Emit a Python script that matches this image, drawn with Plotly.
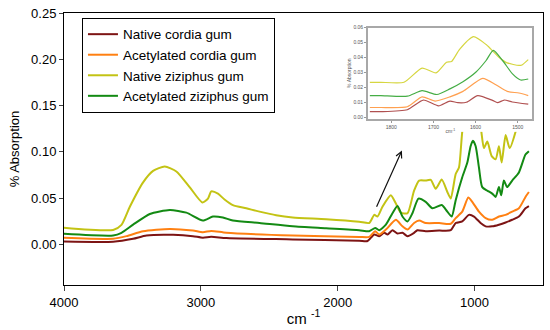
import plotly.graph_objects as go

# ---------------- main spectrum data (wavenumber cm-1, absorption) ----------------
wn_native_cordia = [4000, 3641, 3495, 3397, 3203, 3058, 2985, 2924, 2814, 2329, 1843, 1782, 1733, 1697,
                    1660, 1636, 1600, 1563, 1527, 1490, 1442, 1418, 1357, 1259, 1174, 1138, 1090, 1041,
                    1004, 956, 919, 871, 822, 773, 725, 676, 628, 603]
abs_native_cordia = [0.0030, 0.0028, 0.0060, 0.0095, 0.0102, 0.0088, 0.0071, 0.0081, 0.0067, 0.0053, 0.0039,
                     0.0035, 0.0106, 0.0088, 0.0124, 0.0106, 0.0152, 0.0117, 0.0124, 0.0088, 0.0124, 0.0152,
                     0.0141, 0.0148, 0.0152, 0.0230, 0.0247, 0.0318, 0.0300, 0.0230, 0.0194, 0.0194, 0.0212,
                     0.0236, 0.0265, 0.0300, 0.0389, 0.0413]

wn_acet_cordia = [4000, 3641, 3543, 3422, 3227, 3058, 2985, 2924, 2814, 2329, 1843, 1770, 1726, 1697, 1648,
                  1575, 1527, 1490, 1442, 1405, 1357, 1259, 1174, 1138, 1090, 1046, 1017, 968, 919, 871, 822,
                  773, 725, 676, 628, 603]
abs_acet_cordia = [0.0071, 0.0060, 0.0088, 0.0141, 0.0166, 0.0148, 0.0130, 0.0145, 0.0124, 0.0095, 0.0080,
                   0.0080, 0.0141, 0.0106, 0.0159, 0.0265, 0.0194, 0.0159, 0.0230, 0.0257, 0.0230, 0.0230,
                   0.0222, 0.0283, 0.0353, 0.0505, 0.0459, 0.0353, 0.0283, 0.0265, 0.0300, 0.0318, 0.0353,
                   0.0389, 0.0512, 0.0565]

wn_native_ziziphus = [4000, 3641, 3580, 3519, 3422, 3349, 3264, 3179, 3082, 2989, 2948, 2924, 2875, 2827,
                      2766, 2668, 2571, 2450, 2329, 2085, 1843, 1770, 1733, 1709, 1673, 1612, 1575, 1539,
                      1490, 1442, 1405, 1357, 1320, 1284, 1240, 1199, 1174, 1138, 1114, 1090, 1060, 1030,
                      990, 955, 949, 932, 907, 875, 846, 822, 802, 773, 744, 700, 660, 603]
abs_native_ziziphus = [0.0180, 0.0155, 0.0210, 0.0406, 0.0670, 0.0794, 0.0840, 0.0787, 0.0618, 0.0452,
                       0.0494, 0.0572, 0.0547, 0.0484, 0.0424, 0.0389, 0.0353, 0.0314, 0.0290, 0.0272,
                       0.0244, 0.0230, 0.0318, 0.0300, 0.0406, 0.0530, 0.0440, 0.0342, 0.0336, 0.0580,
                       0.0689, 0.0689, 0.0696, 0.0600, 0.0699, 0.0565, 0.0494, 0.0760, 0.0830, 0.1218,
                       0.1500, 0.1700, 0.1600, 0.1280, 0.1200, 0.1040, 0.1110, 0.0953, 0.0918, 0.1060,
                       0.0883, 0.1180, 0.1040, 0.1220, 0.1500, 0.1700]

wn_acet_ziziphus = [4000, 3641, 3580, 3495, 3373, 3227, 3106, 2985, 2912, 2839, 2766, 2571, 2329, 2085,
                    1843, 1770, 1726, 1697, 1648, 1600, 1563, 1527, 1490, 1454, 1410, 1357, 1308, 1240,
                    1199, 1167, 1138, 1090, 1053, 1029, 1012, 992, 968, 944, 907, 871, 846, 822, 805, 786,
                    762, 725, 676, 628, 603]
abs_acet_ziziphus = [0.0113, 0.0095, 0.0124, 0.0212, 0.0328, 0.0371, 0.0342, 0.0257, 0.0300, 0.0290,
                     0.0257, 0.0230, 0.0194, 0.0173, 0.0152, 0.0141, 0.0177, 0.0152, 0.0212, 0.0336,
                     0.0413, 0.0300, 0.0247, 0.0336, 0.0494, 0.0459, 0.0389, 0.0424, 0.0353, 0.0300,
                     0.0477, 0.0724, 0.0883, 0.1060, 0.1120, 0.1060, 0.0830, 0.0618, 0.0580, 0.0548,
                     0.0512, 0.0618, 0.0530, 0.0689, 0.0618, 0.0689, 0.0777, 0.0970, 0.1006]

# ---------------- inset (zoom 1850-1470 cm-1) ----------------
in_wn_native_cordia = [1851, 1825, 1762, 1724, 1688, 1661, 1642, 1622, 1595, 1560, 1548, 1532, 1513, 1475]
in_abs_native_cordia = [0.0037, 0.0037, 0.0050, 0.0115, 0.0076, 0.0108, 0.0097, 0.0100, 0.0145, 0.0113,
                        0.0097, 0.0115, 0.0102, 0.0087]
in_wn_acet_cordia = [1851, 1825, 1762, 1727, 1696, 1661, 1630, 1583, 1552, 1525, 1497, 1475]
in_abs_acet_cordia = [0.0065, 0.0065, 0.0070, 0.0136, 0.0108, 0.0136, 0.0173, 0.0260, 0.0217, 0.0173,
                      0.0162, 0.0145]
in_wn_native_ziziphus = [1851, 1825, 1770, 1727, 1694, 1669, 1657, 1638, 1605, 1575, 1544, 1525, 1497,
                         1490, 1475]
in_abs_native_ziziphus = [0.0234, 0.0234, 0.0234, 0.0329, 0.0297, 0.0368, 0.0373, 0.0455, 0.0540, 0.0487,
                          0.0400, 0.0364, 0.0347, 0.0350, 0.0386]
in_wn_acet_ziziphus = [1851, 1825, 1762, 1727, 1692, 1661, 1630, 1599, 1575, 1558, 1536, 1513, 1493, 1475]
in_abs_acet_ziziphus = [0.0145, 0.0145, 0.0141, 0.0178, 0.0152, 0.0190, 0.0238, 0.0303, 0.0380, 0.0448,
                        0.0380, 0.0292, 0.0249, 0.0256]

names = ["Native cordia gum", "Acetylated cordia gum", "Native ziziphus gum", "Acetylated ziziphus gum"]
main_colors = ["#7d1414", "#ff8012", "#c3c314", "#138a13"]
inset_colors = ["#b05050", "#ffa050", "#d6d640", "#45ad45"]

y_ticks = [0.0, 0.05, 0.10, 0.15, 0.20, 0.25]
x_ticks = [4000, 3000, 2000, 1000]
in_y_ticks = [0.0, 0.01, 0.02, 0.03, 0.04, 0.05, 0.06]
in_x_ticks = [1800, 1700, 1600, 1500]

FONT = "Liberation Sans, Arial, sans-serif"

fig = go.Figure()

main_sets = [(wn_native_cordia, abs_native_cordia), (wn_acet_cordia, abs_acet_cordia),
             (wn_native_ziziphus, abs_native_ziziphus), (wn_acet_ziziphus, abs_acet_ziziphus)]
for (xs, ys), nm, col in zip(main_sets, names, main_colors):
    fig.add_trace(go.Scatter(x=xs, y=ys, mode="lines", name=nm,
                             line=dict(color=col, width=2, shape="spline", smoothing=0.6),
                             xaxis="x", yaxis="y"))

# white cover behind the inset (empty subplot whose background hides the main curves)
fig.add_trace(go.Scatter(x=[None], y=[None], mode="lines", showlegend=False, xaxis="x2", yaxis="y2"))

inset_sets = [(in_wn_native_cordia, in_abs_native_cordia), (in_wn_acet_cordia, in_abs_acet_cordia),
              (in_wn_native_ziziphus, in_abs_native_ziziphus), (in_wn_acet_ziziphus, in_abs_acet_ziziphus)]
for (xs, ys), nm, col in zip(inset_sets, names, inset_colors):
    fig.add_trace(go.Scatter(x=xs, y=ys, mode="lines", name=nm, showlegend=False,
                             line=dict(color=col, width=1.2, shape="spline", smoothing=0.6),
                             xaxis="x3", yaxis="y3"))

fig.add_annotation(x=1531, y=0.1014, ax=1721, ay=0.0389, xref="x", yref="y", axref="x", ayref="y",
                   text="", showarrow=True, arrowhead=5, arrowsize=1, arrowwidth=1.2, arrowcolor="#111111")

fig.update_layout(
    width=550, height=330,
    margin=dict(l=64, r=6, t=9, b=43),
    paper_bgcolor="white", plot_bgcolor="white",
    font=dict(family=FONT, color="black", size=13),
    showlegend=True,
    legend=dict(x=0.0375, y=0.982, xanchor="left", yanchor="top", bordercolor="black", borderwidth=1,
                bgcolor="white", font=dict(size=13.5, family=FONT), tracegroupgap=0),
    xaxis=dict(domain=[0, 1], range=[4000, 500], tickvals=x_ticks, ticks="outside", ticklen=5,
               showline=True, linecolor="black", linewidth=1, mirror=True, showgrid=False, zeroline=False,
               tickfont=dict(size=13), title=dict(text="cm <sup>-1</sup>", font=dict(size=15), standoff=4)),
    yaxis=dict(domain=[0, 1], range=[-0.044, 0.25], tickvals=y_ticks, tickformat=".2f", ticks="outside",
               ticklen=4, showline=True, linecolor="black", linewidth=1, mirror=True, showgrid=False,
               zeroline=False, tickfont=dict(size=13), title=dict(text="% Absorption", font=dict(size=13),
                                                                  standoff=8)),
    xaxis2=dict(domain=[0.596, 0.9965], anchor="y2", visible=False, range=[0, 1]),
    yaxis2=dict(domain=[0.563, 0.9946], anchor="x2", visible=False, range=[0, 1]),
    xaxis3=dict(domain=[0.635, 0.978], anchor="y3", range=[1855, 1465], tickvals=in_x_ticks,
                ticks="outside", ticklen=2, tickcolor="#999999", showline=True, linecolor="#a8a8a8",
                linewidth=2, mirror=True, showgrid=False, zeroline=False,
                tickfont=dict(size=5, color="#555555"),
                title=dict(text="cm<sup>-1</sup>", font=dict(size=5, color="#555555"), standoff=1)),
    yaxis3=dict(domain=[0.6115, 0.946], anchor="x3", range=[-0.001, 0.06], tickvals=in_y_ticks,
                tickformat=".2f", ticks="outside", ticklen=2, tickcolor="#999999", showline=True,
                linecolor="#a8a8a8", linewidth=2, mirror=True, showgrid=False, zeroline=False,
                tickfont=dict(size=5, color="#555555"),
                title=dict(text="% Absorption", font=dict(size=5, color="#555555"), standoff=2)),
)

fig.write_html("out.html", config={"displayModeBar": False},
               post_script="document.body.style.margin='0';document.body.style.overflow='hidden';")
